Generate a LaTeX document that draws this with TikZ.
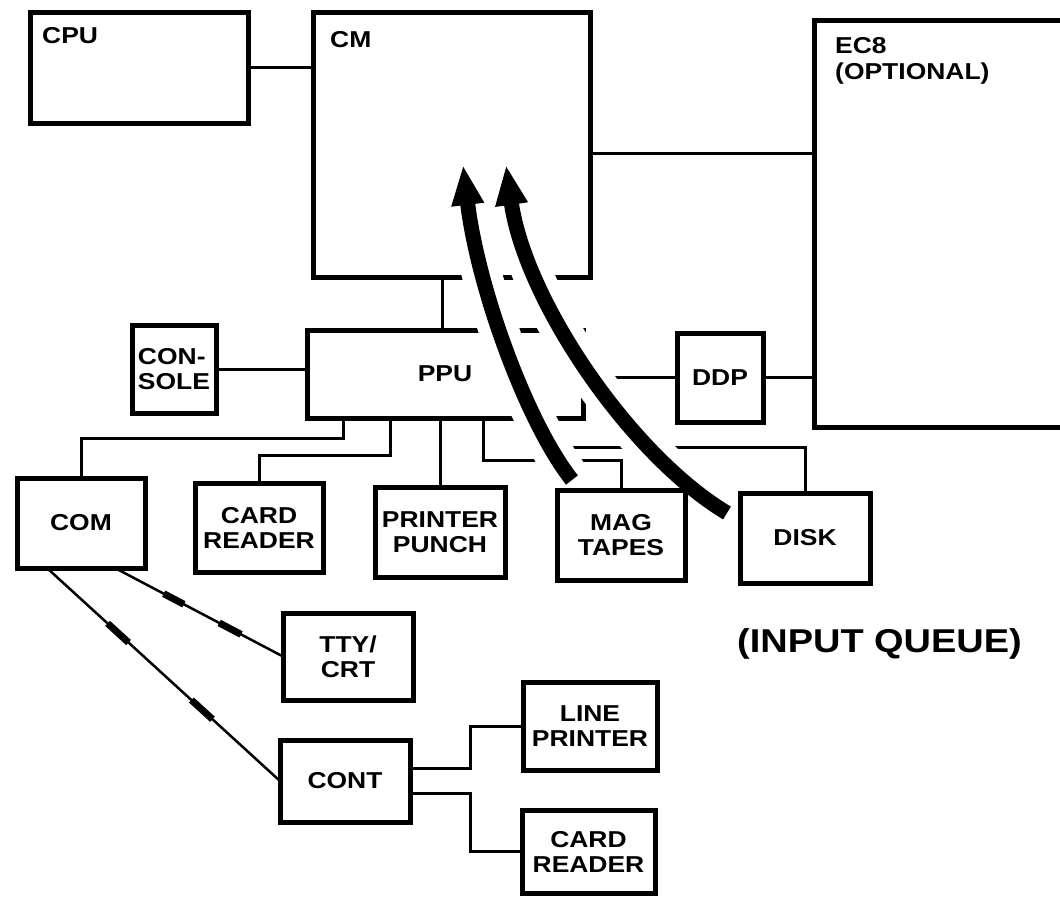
\documentclass[tikz,border=0pt]{standalone}
\usepackage{fontspec}
\newfontfamily\labfont{Liberation Sans}[FakeStretch=1.15]
\newcommand\boxfont{\labfont\bfseries\fontsize{23}{25}\selectfont}
\newcommand\bigfont{\labfont\bfseries\fontsize{33}{38}\selectfont}
\usetikzlibrary{arrows.meta,calc}
\pgfdeclarelayer{front}
\pgfsetlayers{main,front}
\begin{document}
\begin{tikzpicture}[x=1pt,y=-1pt,
  box/.style={draw,line width=5pt,inner sep=0pt,outer sep=0pt,align=center,font=\boxfont},
  conn/.style={line width=3pt},
  comline/.style={line width=2.5pt},
  tickmark/.style={line width=7pt},
  halo/.style={white,line width=40pt},
  fat/.style={line width=15pt,-{Triangle[length=40pt,width=30pt]}},
  txt/.style={inner sep=0pt,font=\boxfont,anchor=base west}]
\useasboundingbox (0,0) rectangle (1060,898);
\fill[white] (0,0) rectangle (1060,898);
\clip (0,0) rectangle (1060,898);

% boxes
\node[box,minimum width=218pt,minimum height=111pt] (cpu) at (139,67.5) {};
\node[box,minimum width=277pt,minimum height=265pt] (cm) at (451.5,144.5) {};
\node[box,minimum width=286pt,minimum height=407pt] (ec8) at (957,223.5) {};
\node[box,minimum width=276pt,minimum height=88pt] (ppu) at (445,374) {PPU};
\node[box,minimum width=84pt,minimum height=88pt,align=left] (console) at (174,369) {CON-\\SOLE};
\node[box,minimum width=86pt,minimum height=89pt] (ddp) at (720,377.5) {DDP};
\node[box,minimum width=128pt,minimum height=90pt] (com) at (81,523) {COM};
\node[box,minimum width=128pt,minimum height=89pt] (cr) at (259,527.5) {CARD\\READER};
\node[box,minimum width=130pt,minimum height=90pt] (pp) at (440,532) {PRINTER\\PUNCH};
\node[box,minimum width=130pt,minimum height=87pt] (tty) at (348,656.5) {TTY/\\CRT};
\node[box,minimum width=130pt,minimum height=82pt] (cont) at (345,781) {CONT};
\node[box,minimum width=134pt,minimum height=88pt] (lp) at (590,726) {LINE\\PRINTER};
\node[box,minimum width=133pt,minimum height=83pt] (cr2) at (588.5,851.5) {CARD\\READER};
\begin{pgfonlayer}{front}
\node[box,minimum width=128pt,minimum height=90pt] (mag) at (621,535) {MAG\\TAPES};
\node[box,minimum width=130pt,minimum height=90pt] (disk) at (805,538) {DISK};
\end{pgfonlayer}

% labels
\node[txt] (cpulab) at (42,43) {CPU};
\node[txt] (cmlab) at (330,47) {CM};
\node[txt] (ec8lab) at (835,53) {EC8};
\node[txt] (optlab) at (835,79) {(OPTIONAL)};
\node[inner sep=0pt,font=\bigfont,anchor=base west] (queue) at (737,652) {(INPUT QUEUE)};

% connectors
\draw[conn] (cpu.east) -- (cpu.east -| cm.west);
\draw[conn] ([yshift=-8.5pt]cm.east) -- ([yshift=-8.5pt]cm.east -| ec8.west);
\draw[conn] ([xshift=-3pt]ppu.north) -- ([xshift=-3pt]ppu.north |- cm.south);
\draw[conn] (console.east) -- (console.east -| ppu.west);
\draw[conn] (ddp.west) -- (ddp.west -| ppu.east);
\draw[conn] (ddp.east) -- (ddp.east -| ec8.west);
\draw[conn] ([xshift=-102pt]ppu.south) -- ++(0,20) -| (com.north);
\draw[conn] ([xshift=-55pt]ppu.south) -- ++(0,37) -| (cr.north);
\draw[conn] (pp.north |- ppu.south) -- (pp.north);
\draw[conn] ([xshift=38pt]ppu.south) -- ++(0,42) -| (mag.north);
\draw[conn] ([xshift=85pt]ppu.south) -- ++(0,29) -| (disk.north);
\draw[conn] ([yshift=13pt]cont.east) -- ++(60,0) |- (lp.west);
\draw[conn] ([yshift=-12pt]cont.east) -- ++(60,0) |- (cr2.west);

% communication lines
\coordinate (ct) at ([xshift=34pt]com.south);
\coordinate (cc) at ([xshift=-34pt]com.south);
\draw[comline] (ct) -- (tty.west);
\draw[comline] (cc) -- (cont.west);
\draw[tickmark] ($(ct)!0.29!(tty.west)$) -- ($(ct)!0.41!(tty.west)$);
\draw[tickmark] ($(ct)!0.62!(tty.west)$) -- ($(ct)!0.75!(tty.west)$);
\draw[tickmark] ($(cc)!0.26!(cont.west)$) -- ($(cc)!0.35!(cont.west)$);
\draw[tickmark] ($(cc)!0.62!(cont.west)$) -- ($(cc)!0.71!(cont.west)$);

% flow arrows
\coordinate (la0) at (572,480);
\coordinate (la1) at (528,425);
\coordinate (la2) at (478,290);
\coordinate (la3) at (463,165);
\coordinate (ra0) at (727,513);
\coordinate (ra1) at (630,455);
\coordinate (ra2) at (525,300);
\coordinate (ra3) at (506,165);
\draw[halo,shorten >=38pt] (la0) .. controls (la1) and (la2) .. (la3);
\draw[halo,shorten >=38pt] (ra0) .. controls (ra1) and (ra2) .. (ra3);
\draw[fat] (la0) .. controls (la1) and (la2) .. (la3);
\draw[fat] (ra0) .. controls (ra1) and (ra2) .. (ra3);
\end{tikzpicture}
\end{document}
